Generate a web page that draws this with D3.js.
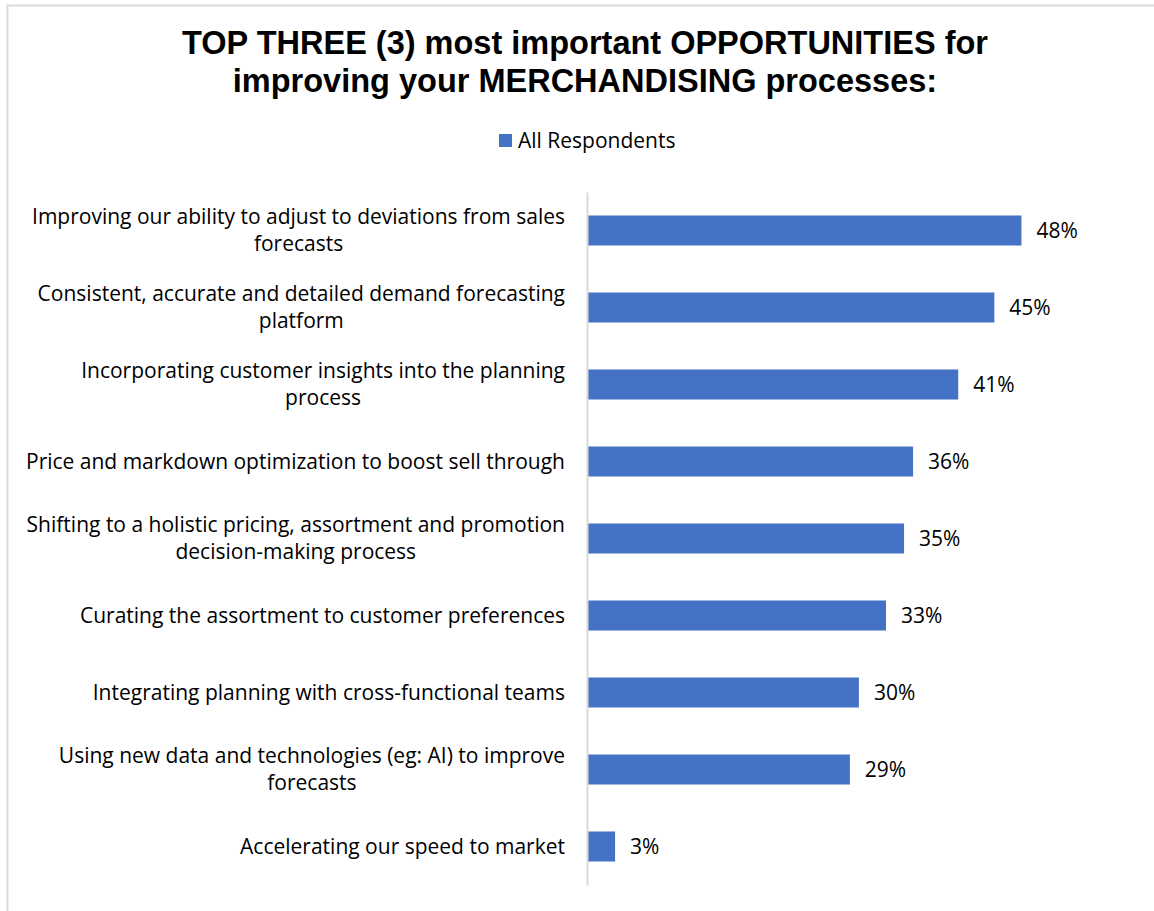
<!DOCTYPE html>
<html>
<head>
<meta charset="utf-8">
<script src="https://cdn.jsdelivr.net/npm/d3@7"></script>
<style>
  html, body { margin: 0; padding: 0; background: #fff; }
  svg { display: block; font-family: "Open Sans", Lato, sans-serif; }
  .title { font-family: "Liberation Sans", Arial, sans-serif; }
</style>
</head>
<body>
<svg id="chart" width="1154" height="911"></svg>
<script>
// Survey answers, each label split into its displayed lines
const categories = [
  ["Improving our ability to adjust to deviations from sales", "forecasts"],
  ["Consistent, accurate and detailed demand forecasting", "platform"],
  ["Incorporating customer insights into the planning", "process"],
  ["Price and markdown optimization to boost sell through"],
  ["Shifting to a holistic pricing, assortment and promotion", "decision-making process"],
  ["Curating the assortment to customer preferences"],
  ["Integrating planning with cross-functional teams"],
  ["Using new data and technologies (eg: AI) to improve", "forecasts"],
  ["Accelerating our speed to market"]
];
const allRespondents = [48, 45, 41, 36, 35, 33, 30, 29, 3];
const seriesName = "All Respondents";
const titleLines = [
  "TOP THREE (3) most important OPPORTUNITIES for",
  "improving your MERCHANDISING processes:"
];

const svg = d3.select("#chart");
const barColor = "#4472c4";
const fontSize = 21;

// outer frame
svg.append("path")
  .attr("d", "M7.5,911 V5.5 H1154")
  .attr("fill", "none")
  .attr("stroke", "#d9d9d9")
  .attr("stroke-width", 2);

// title
svg.append("text")
  .attr("class", "title")
  .attr("x", 585).attr("y", 54)
  .attr("text-anchor", "middle")
  .attr("font-size", 32.5).attr("font-weight", 700)
  .attr("fill", "#000")
  .selectAll("tspan").data(titleLines).join("tspan")
  .attr("x", 585).attr("dy", (d, i) => i === 0 ? 0 : 38)
  .text(d => d);

// legend
const legend = svg.append("g").attr("transform", "translate(499,134)");
legend.append("rect").attr("width", 13).attr("height", 13).attr("fill", barColor);
legend.append("text").attr("x", 19).attr("y", 14)
  .attr("font-size", fontSize).attr("fill", "#000").text(seriesName);

const idx = d3.range(categories.length);
const y = d3.scaleBand().domain(idx).range([192, 885])
  .paddingInner(0.61).paddingOuter(0.305);
const x = d3.scaleLinear().domain([0, 50]).range([588, 1039.5]);

// bars
svg.append("g").selectAll("rect").data(idx).join("rect")
  .attr("x", x(0))
  .attr("y", i => y(i))
  .attr("width", i => x(allRespondents[i]) - x(0))
  .attr("height", y.bandwidth())
  .attr("fill", barColor);

// value labels
svg.append("g").selectAll("text").data(idx).join("text")
  .attr("x", i => x(allRespondents[i]) + 15)
  .attr("y", i => y(i) + y.bandwidth() / 2)
  .attr("dy", "0.35em")
  .attr("font-size", fontSize).attr("fill", "#000")
  .text(i => allRespondents[i] + "%");

// category axis
const yAxis = d3.axisLeft(y).tickSize(0).tickFormat("");
const axisG = svg.append("g").attr("transform", `translate(${x(0) - 1},0)`).call(yAxis);
axisG.select(".domain").attr("stroke", "#d9d9d9").attr("stroke-width", 2);

// category labels: block right-aligned, lines centred on each other
const lineH = 27;
const labelRight = 565;
const labels = svg.append("g").attr("font-size", fontSize).attr("fill", "#000");
idx.forEach(i => {
  const lines = categories[i];
  const cy = y(i) + y.bandwidth() / 2;
  const g = labels.append("g");
  const texts = lines.map((l, k) => g.append("text")
    .attr("y", cy + (k - (lines.length - 1) / 2) * lineH)
    .attr("dy", "0.35em")
    .attr("text-anchor", "middle")
    .text(l));
  const widths = texts.map(t => t.node().getComputedTextLength());
  const w = d3.max(widths);
  texts.forEach(t => t.attr("x", labelRight - w / 2));
});
</script>
</body>
</html>
